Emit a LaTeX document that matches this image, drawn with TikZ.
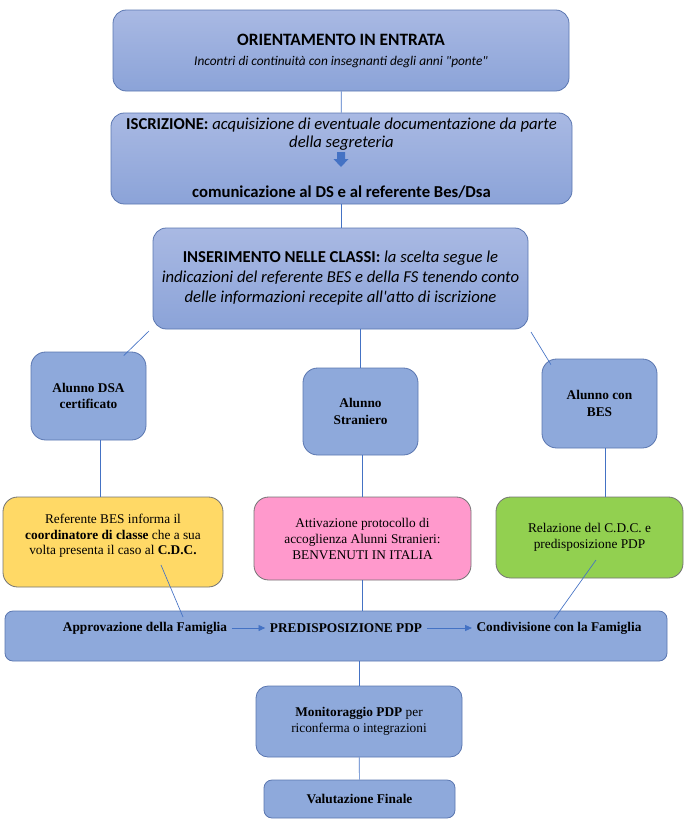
\documentclass[tikz,border=0pt]{standalone}
\usepackage{fontspec}
\setmainfont{Liberation Serif}
\newfontfamily\calfont{Carlito}
\usetikzlibrary{arrows.meta}
\definecolor{boxtop}{HTML}{A9B9E3}
\definecolor{boxbot}{HTML}{8BA3D8}
\definecolor{boxline}{HTML}{5A76B0}
\definecolor{flatblue}{HTML}{8EA9DB}
\definecolor{linkblue}{HTML}{4472C4}
\definecolor{dsayellow}{HTML}{FFD966}
\definecolor{strpink}{HTML}{FF99CC}
\definecolor{besgreen}{HTML}{92D050}
\begin{document}
\begin{tikzpicture}[x=0.75pt,y=-0.75pt,
    phase/.style={draw=boxline, line width=0.6pt, top color=boxtop, bottom color=boxbot,
        rounded corners=10pt, align=center, font=\calfont\fontsize{12.5}{13.5}\selectfont},
    pupil/.style={draw=boxline, line width=0.6pt, fill=flatblue, rounded corners=11pt,
        minimum width=86.25pt, align=center, font=\fontsize{10}{12.5}\selectfont\bfseries},
    action/.style={draw=black!55, line width=0.6pt, rounded corners=11pt, align=center,
        font=\fontsize{10}{12}\selectfont},
    flat/.style={draw=boxline, line width=0.6pt, fill=flatblue, align=center,
        font=\fontsize{10}{12}\selectfont},
    bartext/.style={font=\fontsize{10}{12}\selectfont\bfseries},
    link/.style={draw=linkblue, line width=0.5pt}]
    \useasboundingbox (0,0) rectangle (684,833);
    % first phases
    \node[phase, minimum width=342pt, minimum height=60.75pt, font=\calfont\fontsize{13}{14}\selectfont] (orient) at (341,50.5)
        {\textbf{ORIENTAMENTO IN ENTRATA}\\[1pt]{\fontsize{10}{12}\selectfont\itshape Incontri di continuità con insegnanti degli anni "ponte"}};
    \node[phase, minimum width=345.75pt, minimum height=68.25pt] (iscr) at (341.5,158.5)
        {\textbf{ISCRIZIONE:} \textit{acquisizione di eventuale documentazione da parte}\\\textit{della segreteria}\\[24pt]\textbf{comunicazione al DS e al referente Bes/Dsa}};
    \fill[linkblue] (337,152) -- (345,152) -- (345,159) -- (348.5,159) -- (341,167) -- (333.5,159) -- (337,159) -- cycle;
    \node[phase, minimum width=281.25pt, minimum height=75.75pt, font=\calfont\fontsize{12.5}{15}\selectfont] (ins) at (340.5,278.5)
        {\textbf{INSERIMENTO NELLE CLASSI:} \textit{la scelta segue le}\\\textit{indicazioni del referente BES e della FS tenendo conto}\\\textit{delle informazioni recepite all'atto di iscrizione}};
    \draw[link] (orient) -- (iscr);
    \draw[link] (iscr.south) -- (iscr.south |- ins.north);
    % pupils
    \node[pupil, minimum height=66pt] (dsa) at (88.5,396) {Alunno DSA\\certificato};
    \node[pupil, minimum height=65.25pt] (str) at (360.5,411.5) {Alunno\\Straniero};
    \node[pupil, minimum height=66.75pt] (bes) at (599.5,403.5) {Alunno con\\BES};
    \coordinate (insleft) at (149,331);
    \coordinate (insright) at (531,332);
    \draw[link] (insleft) -- ([xshift=-17pt,yshift=-3pt]dsa.north east);
    \draw[link] (insright) -- ([xshift=7pt,yshift=-4.5pt]bes.north west);
    \draw[link] (str.north) -- (str.north |- ins.south);
    % actions
    \node[action, fill=dsayellow, minimum width=165pt, minimum height=67.5pt] (refdsa) at (113,542) {};
    \node[align=center, font=\fontsize{10}{11.5}\selectfont] at (113,536)
        {Referente BES informa il\\\textbf{coordinatore di classe} che a sua\\volta presenta il caso al \textbf{C.D.C.}};
    \node[action, fill=strpink, minimum width=162.75pt, minimum height=62.25pt] (acc) at (362.5,538.5)
        {Attivazione protocollo di\\accoglienza Alunni Stranieri:\\BENVENUTI IN ITALIA};
    \node[action, fill=besgreen, minimum width=140.25pt, minimum height=60.75pt] (rel) at (589.5,537.5)
        {Relazione del C.D.C. e\\predisposizione PDP};
    \coordinate (dsaout) at ([xshift=8.6pt]dsa.south);
    \coordinate (besout) at ([xshift=4pt]bes.south);
    \draw[link] (dsaout) -- (dsaout |- refdsa.north);
    \draw[link] (acc.north) -- (acc.north |- str.south);
    \draw[link] (besout) -- (besout |- rel.north);
    % PDP bar
    \node[flat, rounded corners=6pt, minimum width=496.5pt, minimum height=37.5pt] (bar) at (336,636) {};
    \node[bartext] (approv) at (145,628) {Approvazione della Famiglia};
    \node[bartext] (pred) at (346,628) {PREDISPOSIZIONE PDP};
    \node[bartext] (cond) at (559,628) {Condivisione con la Famiglia};
    \draw[link, -{Triangle[length=5pt,width=4.5pt]}] (approv) -- (pred);
    \draw[link, -{Triangle[length=5pt,width=4.5pt]}] (pred) -- (cond);
    \coordinate (dsanote) at (161,565);
    \coordinate (famok) at (183,617);
    \coordinate (besnote) at (596,560);
    \coordinate (famshare) at (554,619);
    \draw[link] (dsanote) -- (famok);
    \draw[link] (besnote) -- (famshare);
    \draw[link] (acc.south) -- (acc.south |- bar.north);
    % last steps
    \node[flat, rounded corners=9pt, minimum width=154.5pt, minimum height=53.25pt] (monit) at (359,721.5)
        {\textbf{Monitoraggio PDP} per\\riconferma o integrazioni};
    \node[flat, rounded corners=6pt, minimum width=143.25pt, minimum height=28.5pt] (valut) at (359.5,799)
        {\textbf{Valutazione Finale}};
    \draw[link] (monit.north) -- (monit.north |- bar.south);
    \draw[link] (monit) -- (valut);
\end{tikzpicture}
\end{document}
